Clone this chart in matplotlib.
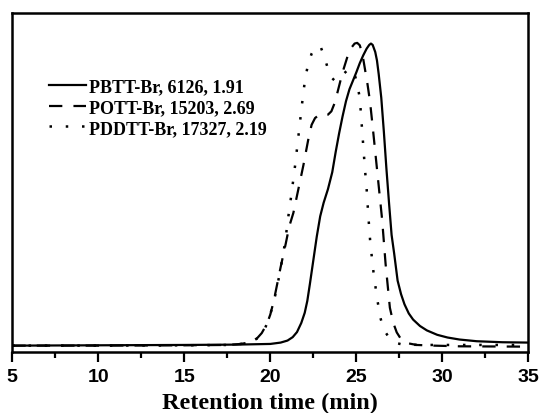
import matplotlib
matplotlib.use("Agg")
import matplotlib.pyplot as plt

# Retention time (min) and normalized detector signal
pbtt_x = [5, 10, 15, 18, 20.0, 20.6, 21.0, 21.3, 21.55, 21.8, 22.0, 22.15, 22.3, 22.5, 22.7,
          22.9, 23.1, 23.35, 23.6, 23.8, 24.0, 24.2, 24.4, 24.6, 24.8, 25.0, 25.2, 25.4, 25.6,
          25.75, 25.85, 25.95, 26.1, 26.2, 26.3, 26.45, 26.6, 26.75, 26.9, 27.05, 27.2, 27.4,
          27.6, 27.8, 28.05, 28.3, 28.7, 29.1, 29.7, 30.3, 31.0, 32, 33.5, 35]
pbtt_y = [0.018, 0.019, 0.020, 0.021, 0.023, 0.027, 0.033, 0.043, 0.058, 0.085, 0.115, 0.15,
          0.20, 0.27, 0.34, 0.40, 0.44, 0.48, 0.53, 0.59, 0.645, 0.695, 0.74, 0.775, 0.80, 0.825,
          0.852, 0.875, 0.895, 0.906, 0.910, 0.906, 0.885, 0.86, 0.82, 0.75, 0.65, 0.54, 0.44,
          0.345, 0.29, 0.21, 0.17, 0.14, 0.113, 0.095, 0.076, 0.063, 0.05, 0.042, 0.036, 0.031,
          0.028, 0.027]

pott_x = [5, 10, 15, 17.5, 18.3, 18.8, 19.2, 19.5, 19.8, 20.0, 20.2, 20.4, 20.6, 20.9, 21.1,
          21.34, 21.63, 21.92, 22.2, 22.4, 22.6, 22.85, 23.1, 23.35, 23.55, 23.76, 24.0, 24.2,
          24.5, 24.7, 24.9, 25.05, 25.2, 25.35, 25.5, 25.65, 25.8, 25.95, 26.1, 26.3, 26.5,
          26.7, 26.95, 27.15, 27.35, 27.6, 27.9, 28.5, 29.5, 31, 35]
pott_y = [0.018, 0.018, 0.019, 0.020, 0.023, 0.028, 0.038, 0.055, 0.082, 0.11, 0.15, 0.2,
          0.25, 0.32, 0.37, 0.41, 0.48, 0.55, 0.625, 0.67, 0.69, 0.70, 0.698, 0.70, 0.71, 0.737,
          0.785, 0.825, 0.874, 0.897, 0.91, 0.912, 0.905, 0.88, 0.835, 0.79, 0.737, 0.665, 0.59,
          0.49, 0.39, 0.26, 0.13, 0.085, 0.057, 0.037, 0.026, 0.02, 0.018, 0.016, 0.015]

pddtt_x = [5, 10, 15, 17.5, 18.5, 19.0, 19.4, 19.7, 19.98, 20.3, 20.56, 20.85, 21.05, 21.24,
           21.44, 21.63, 21.83, 22.02, 22.2, 22.4, 22.6, 22.8, 22.95, 23.15, 23.35, 23.55, 23.75,
           24.0, 24.25, 24.5, 24.7, 24.9, 25.05, 25.2, 25.3, 25.4, 25.5, 25.6, 25.7, 25.8, 25.9,
           26.0, 26.2, 26.4, 26.6, 26.96, 27.3, 27.7, 29, 31, 35]
pddtt_y = [0.018, 0.018, 0.019, 0.020, 0.024, 0.032, 0.045, 0.07, 0.106, 0.17, 0.234, 0.32,
           0.40, 0.47, 0.55, 0.635, 0.726, 0.805, 0.85, 0.88, 0.898, 0.903, 0.897, 0.87, 0.835,
           0.81, 0.80, 0.805, 0.82, 0.832, 0.835, 0.82, 0.79, 0.75, 0.68, 0.61, 0.54, 0.48, 0.40,
           0.33, 0.28, 0.234, 0.16, 0.10, 0.065, 0.037, 0.026, 0.021, 0.02, 0.02, 0.02]

labels = ["PBTT-Br, 6126, 1.91", "POTT-Br, 15203, 2.69", "PDDTT-Br, 17327, 2.19"]
xticks = [5, 10, 15, 20, 25, 30, 35]

fig = plt.figure(figsize=(5.4, 4.14), dpi=100)
ax = fig.add_axes([0.0228, 0.148, 0.9556, 0.818])

ax.plot(pbtt_x, pbtt_y, color="black", lw=1.6, linestyle="-", label=labels[0])
ax.plot(pott_x, pott_y, color="black", lw=1.6, linestyle=(0, (6, 5)), label=labels[1])
ax.plot(pddtt_x, pddtt_y, color="black", lw=1.8, linestyle=(0, (1, 5.5)), label=labels[2])

ax.set_xlim(5, 35)
ax.set_ylim(0, 1)
ax.set_yticks([])
ax.set_xticks(xticks)
ax.set_xticks([7.5, 12.5, 17.5, 22.5, 27.5, 32.5], minor=True)
ax.set_xticklabels([str(t) for t in xticks], fontfamily="Liberation Sans",
                   fontweight="bold", fontsize=14)
ax.tick_params(axis="x", which="major", direction="out", length=7, width=1.6, pad=5)
ax.tick_params(axis="x", which="minor", direction="out", length=4, width=1.6)
for s in ax.spines.values():
    s.set_linewidth(1.8)

ax.set_xlabel("Retention time (min)", fontfamily="Liberation Serif", fontweight="bold",
              fontsize=17.5, labelpad=5)

leg = ax.legend(loc="upper left", bbox_to_anchor=(0.057, 0.83), frameon=False,
                prop={"family": "Liberation Serif", "weight": "bold", "size": 13},
                handlelength=2.05, handletextpad=0.17, labelspacing=0.22, borderaxespad=0)

fig.savefig("out.png", dpi=100)
